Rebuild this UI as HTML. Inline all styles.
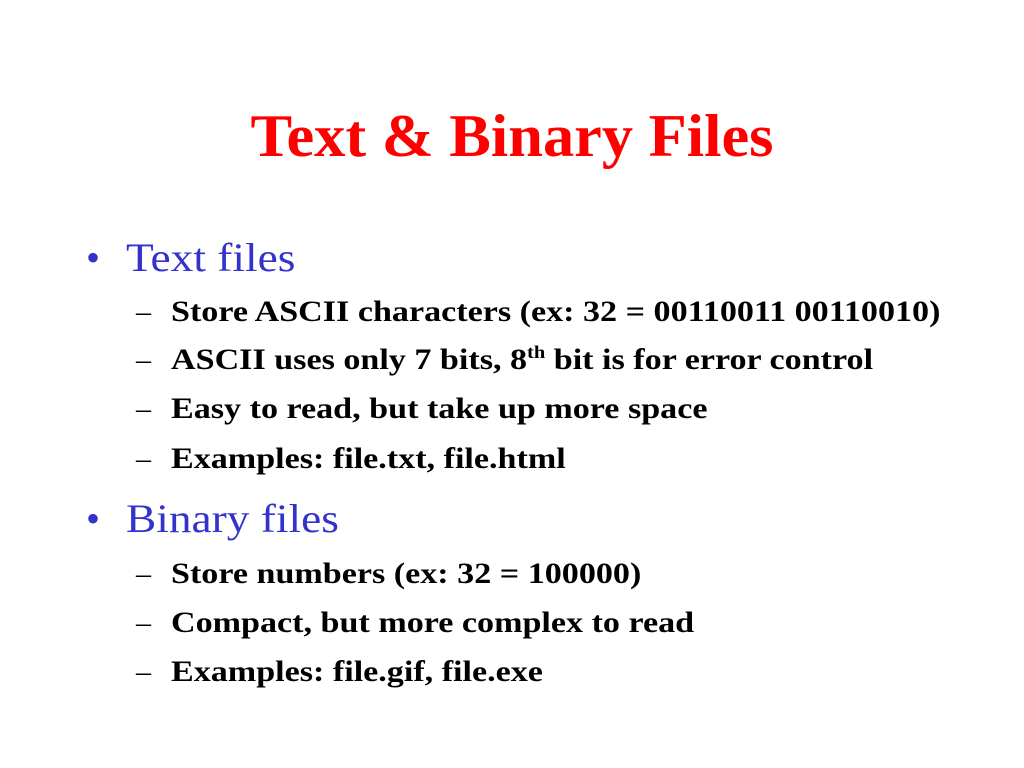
<!DOCTYPE html>
<html><head><meta charset="utf-8"><style>
body{margin:0;width:1024px;height:768px;background:#fff;font-family:"Liberation Serif",serif;position:relative;overflow:hidden}
.t{position:absolute;left:0;width:1024px;text-align:center;top:100px;font-size:60px;font-weight:bold;color:#ff0000;line-height:72px;transform:scaleX(1.04);transform-origin:512px 0}
.b{position:absolute;left:86px;font-size:40px;color:#3333cc;line-height:48px;white-space:nowrap}
.b span{display:inline-block;width:40px}
.b i{font-style:normal;display:inline-block;transform:scaleX(1.134);transform-origin:0 0}
.s{position:absolute;left:136px;font-size:30px;color:#000;line-height:36px;white-space:nowrap}
.s span{display:inline-block;width:35px;font-weight:normal}
.s b{font-weight:bold;display:inline-block;transform:scaleX(1.136);transform-origin:0 0}
sup{font-size:18px;line-height:0}
</style></head><body>
<div class="t">Text &amp; Binary Files</div>
<div class="b" style="top:234px"><span>•</span><i>Text files</i></div>
<div class="s" style="top:294px"><span>–</span><b>Store ASCII characters (ex: 32 = 00110011 00110010)</b></div>
<div class="s" style="top:342px"><span>–</span><b>ASCII uses only 7 bits, 8<sup>th</sup> bit is for error control</b></div>
<div class="s" style="top:391px"><span>–</span><b>Easy to read, but take up more space</b></div>
<div class="s" style="top:441px"><span>–</span><b>Examples: file.txt, file.html</b></div>
<div class="b" style="top:495px"><span>•</span><i>Binary files</i></div>
<div class="s" style="top:556px"><span>–</span><b>Store numbers (ex: 32 = 100000)</b></div>
<div class="s" style="top:605px"><span>–</span><b>Compact, but more complex to read</b></div>
<div class="s" style="top:654px"><span>–</span><b>Examples: file.gif, file.exe</b></div>
</body></html>
